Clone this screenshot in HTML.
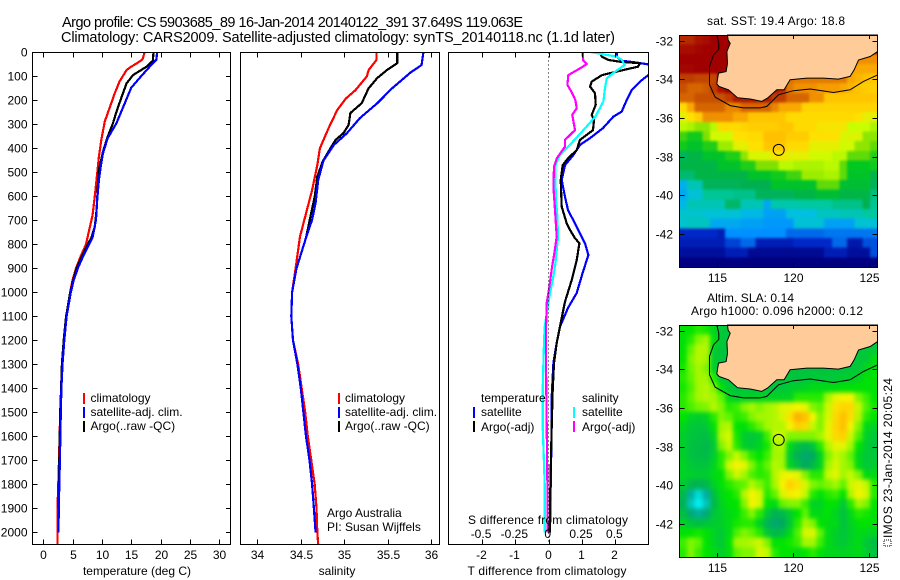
<!DOCTYPE html>
<html>
<head>
<meta charset="utf-8">
<title>Argo profile</title>
<style>
html,body{margin:0;padding:0;background:#fff;}
svg{display:block;}
text{font-family:"Liberation Sans",sans-serif;font-size:12px;fill:#000;}
.t{font-size:14.5px;}
</style>
</head>
<body>
<svg id="fig" xmlns="http://www.w3.org/2000/svg" width="900" height="580" viewBox="0 0 900 580">
<defs>
<filter id="soft-sst" filterUnits="userSpaceOnUse" x="650" y="10" width="250" height="280" color-interpolation-filters="sRGB"><feGaussianBlur stdDeviation="1.2"/></filter>
<filter id="soft-sla" filterUnits="userSpaceOnUse" x="650" y="300" width="250" height="280" color-interpolation-filters="sRGB"><feGaussianBlur stdDeviation="2.2"/></filter>
</defs>
<text class="t" x="62" y="27" textLength="461">Argo profile: CS 5903685_89 16-Jan-2014 20140122_391 37.649S 119.063E</text>
<text class="t" x="61" y="42" textLength="554">Climatology: CARS2009. Satellite-adjusted climatology: synTS_20140118.nc (1.1d later)</text>
<text x="776" y="25" text-anchor="middle" textLength="138">sat. SST: 19.4  Argo: 18.8</text>
<text x="707" y="302" textLength="87">Altim. SLA: 0.14</text>
<text x="691" y="315" textLength="172">Argo h1000: 0.096 h2000: 0.12</text>
<g id="layer"></g>
<text x="137" y="575" text-anchor="middle">temperature (deg C)</text>
<text x="337" y="575" text-anchor="middle">salinity</text>
<text x="547" y="575" text-anchor="middle" textLength="159">T difference from climatology</text>
<text x="548" y="524" text-anchor="middle" textLength="160">S difference from climatology</text>
<text x="327" y="517">Argo Australia</text>
<text x="327" y="531">PI: Susan Wijffels</text>
<g>
<rect x="83" y="393" width="2" height="11" fill="#f00"/>
<text x="90.5" y="402">climatology</text>
<rect x="83" y="407" width="2" height="11" fill="#00f"/>
<text x="90.5" y="416">satellite-adj. clim.</text>
<rect x="83" y="421" width="2" height="11" fill="#000"/>
<text x="90.5" y="430">Argo(..raw -QC)</text>
</g>
<g>
<rect x="338" y="393" width="2" height="11" fill="#f00"/>
<text x="345" y="402">climatology</text>
<rect x="338" y="407" width="2" height="11" fill="#00f"/>
<text x="345" y="416">satellite-adj. clim.</text>
<rect x="338" y="421" width="2" height="11" fill="#000"/>
<text x="345" y="430">Argo(..raw -QC)</text>
</g>
<g>
<text x="481" y="402">temperature</text>
<text x="582" y="402">salinity</text>
<rect x="473" y="407" width="2" height="11" fill="#00f"/>
<text x="481" y="416">satellite</text>
<rect x="473" y="421" width="2" height="11" fill="#000"/>
<text x="481" y="431">Argo(-adj)</text>
<rect x="573" y="407" width="2" height="11" fill="#0ff"/>
<text x="582" y="416">satellite</text>
<rect x="573" y="421" width="2" height="11" fill="#f0f"/>
<text x="582" y="431">Argo(-adj)</text>
</g>
<rect x="884" y="540" width="7" height="6" fill="none" stroke="#000" stroke-width="1" stroke-dasharray="1 1"/>
<text transform="translate(892,538) rotate(-90)" textLength="160">IMOS 23-Jan-2014 20:05:24</text>
</svg>
<script>
/* ---------- depth axis ---------- */
var depthTicks = [0,100,200,300,400,500,600,700,800,900,1000,1100,1200,1300,1400,1500,1600,1700,1800,1900,2000];
/* ---------- temperature profiles ---------- */
var tempTicks = [0,5,10,15,20,25,30];
var tempClimDepth = [0,30,45,60,74,122,170,226,288,365,435,505,600,680,755,800,850,900,950,1000,1100,1200,1300,1400,1500,1700,1900,2050];
var tempClim = [17.3,16.9,16,15,14.2,13,12.2,11.4,10.5,9.9,9.5,9.2,8.8,8.4,7.7,7.3,6.4,5.6,5,4.6,3.9,3.5,3.2,3.05,2.9,2.7,2.45,2.45];
var tempSatDepth = [0,30,53,108,148,212,295,358,420,477,532,615,698,773,800,850,900,950,1000,1100,1200,1300,1400,1500,1700,1800,2000];
var tempSat = [19.4,19.3,18.4,16.4,15,13.9,12.5,11,10.2,9.8,9.5,9.2,9,8.4,7.8,6.8,5.9,5.2,4.7,4,3.6,3.3,3.1,3,2.85,2.75,2.6];
var tempArgoDepth = [0,35,60,95,130,191,247,295,358,414,490,560,657,727,773,800,850,900,950,1000,1100,1200,1300,1400,1500,1700,1900,2000];
var tempArgo = [18.8,18.7,17.6,15.3,14.2,13.3,12.5,11.9,10.9,10.2,9.5,9.3,9.1,8.8,8.2,7.6,6.6,5.7,5.1,4.6,3.9,3.5,3.2,3.05,2.9,2.75,2.6,2.6];
/* ---------- salinity profiles ---------- */
var salTicks = [34,34.5,35,35.5,36];
var salClimDepth = [0,32,74,100,157,192,240,316,400,470,574,657,768,900,1000,1100,1200,1300,1400,1500,1600,1700,1800,1900,2000,2050];
var salClim = [35.37,35.37,35.28,35.26,35.13,35.02,34.92,34.82,34.72,34.69,34.63,34.57,34.49,34.44,34.4,34.39,34.41,34.47,34.51,34.55,34.58,34.62,34.66,34.68,34.69,34.7];
var salSatDepth = [0,53,85,150,212,274,337,386,452,532,628,698,773,900,1000,1100,1200,1300,1400,1500,1600,1700,1800,1900,2000];
var salSat = [35.91,35.89,35.76,35.55,35.38,35.18,35.03,34.88,34.76,34.7,34.67,34.63,34.56,34.45,34.4,34.39,34.41,34.46,34.5,34.53,34.56,34.6,34.63,34.65,34.67];
var salArgoDepth = [0,45,74,107,150,212,253,303,337,365,400,456,518,602,685,773,900,1000,1100,1200,1300,1400,1500,1600,1700,1800,1900,2000];
var salArgo = [35.61,35.61,35.49,35.38,35.28,35.2,35.07,35.05,34.99,34.9,34.84,34.75,34.69,34.66,34.61,34.56,34.45,34.4,34.39,34.41,34.46,34.5,34.53,34.56,34.6,34.63,34.65,34.67];
/* ---------- difference profiles ---------- */
var diffTTicks = [-2,-1,0,1,2];
var diffSTicks = [-0.5,-0.25,0,0.25,0.5];
var diffSatTDepth = [0,18,35,43,53,88,122,157,199,247,268,316,358,386,428,470,532,602,657,727,796,845,914,1003,1065,1143,1211,1295,1435,1557,1800,2000];
var diffSatT = [2.04,2.04,2.19,2.64,3.1,3.05,2.74,2.49,2.34,2.19,1.94,1.63,1.24,0.94,0.74,0.49,0.39,0.49,0.58,0.84,1.09,1.19,1.03,0.84,0.58,0.34,0.24,0.14,0.09,0.09,0.06,0.04];
var diffArgoTDepth = [0,18,32,39,46,60,74,95,122,143,170,219,261,282,324,365,407,442,470,532,643,713,740,773,796,866,949,1039,1143,1211,1295,1407,1557,1800,2000];
var diffArgoT = [1.54,1.59,1.79,2.14,2.74,2.68,2.23,1.6,1.29,1.24,1.39,1.41,1.29,1.36,1.33,0.94,0.84,0.58,0.42,0.36,0.39,0.54,0.64,0.78,0.92,0.84,0.69,0.49,0.34,0.24,0.16,0.12,0.09,0.05,0.03];
var diffSatSDepth = [0,18,32,53,88,109,157,205,268,324,379,428,470,532,615,685,773,796,880,949,1003,1072,1143,1211,1295,1407,1557,1800,2000];
var diffSatS = [0.32,0.51,0.55,0.57,0.48,0.435,0.42,0.41,0.35,0.26,0.17,0.085,0.05,0.05,0.055,0.065,0.07,0.065,0.05,0.03,0.01,-0.01,-0.03,-0.035,-0.04,-0.045,-0.045,-0.03,-0.03];
var diffArgoSDepth = [0,32,49,67,95,136,164,199,233,261,324,365,393,442,477,560,657,768,838,907,976,1045,1156,1295,1557,1800,2000];
var diffArgoS = [0.255,0.257,0.285,0.235,0.147,0.14,0.17,0.2,0.21,0.177,0.197,0.122,0.122,0.06,0.04,0.035,0.047,0.06,0.042,0.022,0.005,-0.015,-0.02,-0.02,-0.015,-0.01,-0.01];
/* ---------- maps ---------- */
var lonTicks = [115,120,125];
var latTicks = [-32,-34,-36,-38,-40,-42];
var argoLon = 119.063;
var argoLat = -37.649;
var n = null;
var sstRows = [
[21.2,21.2,21.5,21.6,21.8,21.8,21.8],
[21.6,21.6,21.7,21.8,21.8,21.8,21.8],
[21.8,21.8,21.8,21.8,21.8,21.8,21.8,n,n,n,n,n,n,n,n,n,n,n,n,n,n,n,n,20.2,20.2,20.2],
[21.7,21.7,21.8,21.8,21.8,21.8,21.8,n,n,n,n,n,n,n,n,n,n,n,n,n,n,n,20,20,20,20],
[21,21,20.9,20.9,20.9,21.8,21.8,n,n,n,n,n,n,n,20.5,20.4,20.4,20.4,20.4,20.4,20.4,20.4,20,19.9,19.8,19.7],
[20.8,20.6,20.6,20.7,21,21.5,21.8,21.6,21.5,21.5,21.5,21.5,21.5,21.2,20.4,20.2,20.2,20.2,20.1,20.1,20.1,20,19.9,19.7,19.6,19.6],
[20.6,20.6,20.8,20.8,20.8,20.8,21,21.4,21.4,21.4,21.4,21.4,21,21,20.6,20.6,20.6,20.2,20.2,19.7,19.7,19.7,19.7,19.7,19.7,19.7],
[19.4,20,20.6,20.6,20.6,20.6,20.3,20.3,20.6,20.6,20.6,20.6,20.3,20,20,20,19.5,19.5,19.5,19.5,19.5,19.5,19.5,19.5,19.5,19.5],
[19,19.3,19.6,20.2,20.2,20.2,20.2,20,20,19.7,19.7,19.7,19.7,19.7,19.4,19.4,19.4,19.4,19.4,19.4,19.4,19.4,19.4,19.3,19,19],
[18.6,18.5,18.3,18.3,18.6,19.4,19.4,19.4,19.5,19.6,19.6,19.6,19.6,19.7,19.7,19.4,19.4,19.4,19.2,19.2,19.2,19.2,18.7,18.7,18.7,18.5],
[17.8,17.5,17.5,18.2,18.8,18.8,18.8,19.3,19.3,19.4,19.4,19.8,19.8,19.8,19.6,19.6,19.6,19.3,19.3,19.3,19.3,18.9,18.9,18.9,18.3,18.3],
[17.5,17.3,17.3,17.6,17.6,18.4,18.4,19,19,19.3,19.3,19.7,19.7,19.7,19.4,19.4,19.4,19,19,19,19,18.8,18.8,18.3,18.3,18],
[16.8,17,17,17.3,17.3,17.3,17.6,17.6,18.3,18.9,18.9,18.9,19.2,19.2,19,19,19,18.8,18.8,18.8,18.6,18.6,18,18,18,17.6],
[17,17,17,17,17,17.3,17.3,17.3,17.6,17.6,18.2,18.2,18.2,18.6,18.6,18.5,18.5,18.5,18.5,18.6,18.6,18,17.4,17.4,17.4,17.5],
[16.6,16.6,17,17,17,17,17,17,17,17.3,17.3,17.3,17.5,17.5,17.8,17.8,18.4,18.4,18.4,18.5,18.5,18,17.3,17.3,17.3,17],
[15.4,16,16,16.8,16.8,16.8,16.8,16.8,16.9,16.9,16.9,16.9,17.3,17.3,17.3,17.3,17.3,17.3,18,18,18,17.2,17.2,17.2,17.2,16.8],
[15.3,15.7,15.7,16.3,16.3,16.3,16.3,16.4,16.4,16.4,16.8,16.8,16.8,16.8,16.8,17,17,17,17.2,17.2,17.2,17,17,17,17,16.5],
[15.5,16,16,16,16,16,16.7,16.7,16,16,16,15.3,16.1,16.1,16.1,16.1,16.2,16.2,16.2,16.2,16.4,16.4,16.4,16.4,16.9,16.3],
[15.8,15.8,15.8,15.7,15.7,15.7,15.7,15.7,15.5,15.5,15.5,15.2,15.2,15.2,15.6,15.6,15.6,15.6,15.9,15.9,15.9,16,16,16,16.2,16.2],
[15.8,15.9,15.9,15.9,15.3,15.3,15.3,15.3,15.2,15.2,15.2,15.1,15.1,15.1,15.1,15.7,15.7,15.7,15.7,15.2,15.2,15.2,15.2,15.7,15.7,15.7],
[14.2,14.2,14.2,14.2,14.2,14,15,15,15,15,15,15,15,15,14.7,14.7,14.7,14.7,14.7,14.8,14.8,14.8,14.8,14.8,14.8,14.8],
[14,14,14,14,14,14,14.4,14.4,14.7,14.7,14,14,14,14,14,14.2,14.2,14.2,14.2,14.2,14.7,14.7,13.9,13.9,14.5,14.5],
[13.7,13.7,13.7,13.7,13.7,13.7,14,14,14,13.6,13.6,13.6,13.6,13.6,13.6,13.6,13.6,13.6,13.6,14,14,14,13.7,13.7,13.7,14.5],
[13.4,13.4,13.4,13.4,13.4,13.4,13.4,13.4,13.4,13.4,13.4,13.4,13.4,13.4,13.4,13.4,13.4,13.4,13.4,13.4,13.4,13.4,13.4,13.4,13.4,13.4]
];
var slaRows = [
[0.02,0.03,0.05,0.04,-0.02,-0.05,-0.06],
[0.02,0.05,0.1,0.12,0.02,-0.05,-0.06],
[0.02,0.08,0.13,0.13,-0.03,-0.06,-0.06,n,n,n,n,n,n,n,n,n,n,n,n,n,n,n,n,-0.05,-0.05,-0.05],
[0.03,0.1,0.13,0.12,-0.04,-0.06,-0.06,n,n,n,n,n,n,n,n,n,n,n,n,n,n,n,-0.05,-0.05,-0.05,0],
[0.04,0.09,0.12,0.1,-0.03,-0.06,-0.06,n,n,n,n,n,n,n,n,n,n,n,n,n,n,n,-0.06,-0.05,-0.01,0.02],
[0.05,0.08,0.12,0.12,0.05,-0.05,-0.06,-0.06,-0.06,-0.06,-0.06,-0.06,-0.06,-0.06,-0.06,-0.06,-0.06,-0.05,-0.05,-0.05,-0.05,-0.04,-0.03,-0.02,0.02,0.02],
[0.04,0.07,0.12,0.13,0.1,0.03,-0.05,-0.06,-0.06,-0.06,-0.06,-0.06,-0.06,-0.06,-0.04,-0.03,-0.02,0,0,0,0.01,0.02,0.02,0.02,0.02,0.02],
[0.05,0.08,0.12,0.13,0.12,0.08,-0.01,-0.04,-0.03,-0.03,-0.02,-0.02,-0.02,-0.02,-0.02,0.05,0.05,0.05,0.05,0.12,0.18,0.2,0.2,0.1,0.06,0.03],
[0.05,0.07,0.09,0.1,0.13,0.1,0.05,0.06,0.1,0.12,0.1,0.12,0.13,0.17,0.18,0.2,0.18,0.1,0.08,0.15,0.24,0.27,0.26,0.14,0.07,0.04],
[0.03,-0.02,-0.03,-0.02,0.05,0.1,0.08,0.05,0.06,0.1,0.12,0.12,0.13,0.16,0.24,0.32,0.3,0.2,0.1,0.16,0.26,0.3,0.25,0.13,0.05,0.03],
[-0.01,-0.05,-0.06,-0.05,0.02,0.12,0.13,0.03,0.02,0.05,0.08,0.12,0.13,0.13,0.2,0.28,0.26,0.14,0.1,0.18,0.27,0.3,0.2,0.1,0,-0.02],
[-0.03,-0.06,-0.07,-0.08,-0.02,0.13,0.16,0.04,-0.04,-0.05,-0.03,0.06,0.14,0.14,0.1,0.1,0.1,0.1,0.12,0.18,0.26,0.28,0.15,0.07,-0.03,-0.05],
[-0.03,-0.07,-0.08,-0.1,-0.05,0.1,0.14,0.05,-0.03,-0.05,-0.02,0.04,0.12,0.13,0,-0.07,-0.1,-0.06,0.05,0.13,0.18,0.18,0.12,0.03,-0.04,-0.06],
[-0.03,-0.07,-0.08,-0.09,-0.04,0.05,0.1,0.14,0.1,0.05,0.03,0.06,0.12,0.12,-0.04,-0.12,-0.18,-0.14,-0.02,0.1,0.14,0.12,0.08,-0.01,-0.05,-0.05],
[-0.02,-0.05,-0.06,-0.06,-0.02,0.05,0.15,0.2,0.18,0.1,0.05,0.08,0.13,0.12,-0.02,-0.08,-0.15,-0.1,-0.02,0.12,0.16,0.12,0.1,0,-0.05,-0.04],
[-0.02,-0.03,-0.04,-0.04,0,0.02,0.1,0.15,0.12,0.07,0.05,0.06,0.13,0.18,0.2,0.18,0.1,0.05,0.05,0.14,0.18,0.12,0.14,0.1,0,0],
[-0.04,-0.1,-0.12,-0.1,-0.03,0.02,0.05,0.07,0.08,0.13,0.1,0.06,0.12,0.2,0.28,0.24,0.16,0.1,0.08,0.1,0.12,0.08,0.15,0.18,0.14,0.05],
[-0.1,-0.3,-0.4,-0.3,-0.08,0,0.03,0.05,0.13,0.2,0.16,0.05,0.08,0.16,0.22,0.2,0.14,0.05,0.02,0.05,0.06,0.03,0.13,0.2,0.16,0.05],
[-0.12,-0.35,-0.45,-0.35,-0.1,-0.02,0.02,0.03,0.1,0.2,0.16,0.03,0,0.08,0.1,0.1,0.06,-0.02,-0.02,0.03,0.02,-0.05,0.05,0.12,0.1,0.03],
[-0.08,-0.2,-0.28,-0.2,-0.06,-0.03,0,0.02,0.06,0.1,0.05,-0.05,-0.12,-0.1,-0.04,0.03,0.08,0,0,0.02,-0.02,-0.07,0,0.05,0.04,0.02],
[-0.02,-0.06,-0.08,-0.06,-0.04,-0.03,0,0.04,0.05,0.05,-0.02,-0.12,-0.18,-0.15,-0.05,0.05,0.12,0.1,0.03,0,0,-0.07,-0.02,0.02,0.03,0.02],
[0.02,0.03,0.04,0.02,-0.02,-0.05,0,0.07,0.1,0.08,0.05,-0.05,-0.1,-0.08,0,0.07,0.16,0.17,0.08,0,-0.03,-0.06,-0.03,0,-0.01,-0.02],
[0.06,0.1,0.08,0.03,-0.02,-0.05,0.02,0.12,0.12,0.13,0.15,0.1,0.02,0.03,0.04,0.06,0.12,0.12,0.06,0,-0.03,-0.05,-0.02,0,-0.05,-0.08],
[0.05,0.1,0.06,0.03,0,-0.03,0,0.08,0.1,0.1,0.16,0.14,0.05,0.03,0.03,0,0.03,0.05,0.02,-0.01,-0.01,-0.02,-0.01,0,-0.04,-0.06]
];
var landLon = [115.70,115.74,115.88,115.66,115.70,115.61,115.11,115.0,115.15,115.77,116.36,117.19,117.95,118.33,118.94,119.42,119.81,120.91,122.0,122.99,123.75,124.02,124.3,125.07,125.55,125.55];
var landLat = [-31.71,-31.97,-32.14,-32.57,-33.17,-33.6,-33.68,-34.23,-34.37,-34.54,-34.95,-35.02,-35.14,-34.97,-34.54,-34.54,-34.02,-33.94,-33.94,-33.99,-33.85,-33.51,-33.0,-32.82,-32.57,-31.71];
var isoLon = [115,115.13,115.13,114.78,114.52,114.52,114.89,115.88,116.75,117.84,118.28,119.05,120.03,121.13,122.66,123.75,124.63,125.55];
var isoLat = [-31.71,-32.14,-32.45,-32.74,-33.34,-34.28,-34.92,-35.36,-35.48,-35.48,-35.4,-34.8,-34.59,-34.5,-34.68,-34.54,-34.11,-33.77];
var sstLevels = [13.4,14.2,15,15.6,16.2,16.9,17.4,18.2,18.7,19.3,19.8,20.2,20.8,21.3,21.8];
var sstColors = ['#000080','#0028c8','#0090ff','#00c0e0','#00c8a0','#00b050','#00c820','#80e000','#c8ff00','#ffe000','#ffc000','#f09000','#c85000','#b02000','#a00000'];
var slaLevels = [-0.45,-0.3,-0.15,-0.05,0.03,0.08,0.14,0.2,0.28,0.36];
var slaColors = ['#00f0f0','#00b0a0','#00a860','#00c838','#00e400','#60f400','#c4f800','#f4f400','#ffd000','#ff9000'];

var SVGNS = 'http://www.w3.org/2000/svg';
var layer = document.getElementById('layer');
function make(tag, attrs, parent) {
  var el = document.createElementNS(SVGNS, tag);
  for (var k in attrs) el.setAttribute(k, attrs[k]);
  (parent || layer).appendChild(el);
  return el;
}
function scale(d0, d1, r0, r1) {
  return function (v) { return r0 + (v - d0) * (r1 - r0) / (d1 - d0); };
}
function hex(c) { return [parseInt(c.substr(1, 2), 16), parseInt(c.substr(3, 2), 16), parseInt(c.substr(5, 2), 16)]; }
function ramp(levels, colors) {
  return function (v) {
    var i = 0;
    if (v <= levels[0]) return colors[0];
    if (v >= levels[levels.length - 1]) return colors[colors.length - 1];
    while (v > levels[i + 1]) i++;
    var f = (v - levels[i]) / (levels[i + 1] - levels[i]);
    var a = hex(colors[i]), b = hex(colors[i + 1]);
    return 'rgb(' + Math.round(a[0] + (b[0] - a[0]) * f) + ',' + Math.round(a[1] + (b[1] - a[1]) * f) + ',' + Math.round(a[2] + (b[2] - a[2]) * f) + ')';
  };
}

var TOP = 52.3, BOT = 544.3;
var yDepth = scale(0, 2050, TOP, BOT);
var xTemp = scale(-1.8, 32, 32.6, 231);
var xSal = scale(33.8, 36.09, 240, 439);
var xDiffT = scale(-3, 3, 448.7, 648.7);
var xDiffS = scale(-0.75, 0.75, 448.7, 648.7);

function panel(id, left, right) {
  var g = make('g', {});
  
  
  var cp = make('clipPath', { id: id + '-clip' }, g);
  make('rect', { x: left, y: TOP, width: right - left, height: BOT - TOP }, cp);
  return g;
}
function frame(g, left, top, right, bottom) {
  var r = make('rect', { x: Math.floor(left) + 0.5, y: Math.floor(top) + 0.5, width: Math.round(right - left), height: Math.round(bottom - top), fill: 'none', stroke: '#000', 'stroke-width': 1, 'shape-rendering': 'crispEdges' }, g);
  
  
}
function tick(g, x1, y1, x2, y2) {
  var t = make('line', { x1: x1, y1: y1, x2: x2, y2: y2, stroke: '#000', 'stroke-width': 1, 'shape-rendering': 'crispEdges' }, g);
  
  
}
function label(g, x, y, str, anchor) {
  var t = make('text', { x: x, y: y, 'text-anchor': anchor || 'middle' }, g);
  t.textContent = str;
  
  
}
function profile(g, clipId, xf, vals, depths, color, name, width) {
  var pts = vals.map(function (v, i) { return xf(v).toFixed(1) + ',' + yDepth(depths[i]).toFixed(1); }).join(' ');
  var l = make('polyline', { points: pts, fill: 'none', stroke: color, 'stroke-width': width || 2.2, 'shape-rendering': 'crispEdges', 'stroke-linejoin': 'round', 'clip-path': 'url(#' + clipId + ')' }, g);
  
  
}

/* temperature panel */
var p1 = panel('temperature', 32.6, 231);
profile(p1, 'temperature-clip', xTemp, tempClim, tempClimDepth, '#f00', 'temperature-climatology-line');
profile(p1, 'temperature-clip', xTemp, tempArgo, tempArgoDepth, '#000', 'temperature-argo-line');
profile(p1, 'temperature-clip', xTemp, tempSat, tempSatDepth, '#00f', 'temperature-satellite-line');
frame(p1, 32.6, TOP, 231, BOT);
depthTicks.forEach(function (d) {
  var y = Math.round(yDepth(d)) + 0.5;
  tick(p1, 32.5, y, 37.5, y);
  tick(p1, 226, y, 231, y);
  label(p1, 27.5, y + 4, String(d), 'end');
});
tempTicks.forEach(function (v) {
  var x = Math.round(xTemp(v)) + 0.5;
  tick(p1, x, TOP, x, TOP + 5);
  tick(p1, x, BOT - 5, x, BOT);
  label(p1, x, 559, String(v));
});

/* salinity panel */
var p2 = panel('salinity', 240, 439);
profile(p2, 'salinity-clip', xSal, salClim, salClimDepth, '#f00', 'salinity-climatology-line');
profile(p2, 'salinity-clip', xSal, salArgo, salArgoDepth, '#000', 'salinity-argo-line');
profile(p2, 'salinity-clip', xSal, salSat, salSatDepth, '#00f', 'salinity-satellite-line');
frame(p2, 240, TOP, 439, BOT);
salTicks.forEach(function (v) {
  var x = Math.round(xSal(v)) + 0.5;
  tick(p2, x, TOP, x, TOP + 5);
  tick(p2, x, BOT - 5, x, BOT);
  label(p2, x, 559, String(v));
});

/* difference panel */
var p3 = panel('difference', 448.7, 648.7);
profile(p3, 'difference-clip', xDiffT, diffSatT, diffSatTDepth, '#00f', 'difference-t-satellite-line');
profile(p3, 'difference-clip', xDiffT, diffArgoT, diffArgoTDepth, '#000', 'difference-t-argo-line');
profile(p3, 'difference-clip', xDiffS, diffSatS, diffSatSDepth, '#0ff', 'difference-s-satellite-line');
profile(p3, 'difference-clip', xDiffS, diffArgoS, diffArgoSDepth, '#f0f', 'difference-s-argo-line');
var zeroLine = make('line', { x1: xDiffT(0), y1: TOP, x2: xDiffT(0), y2: BOT, stroke: '#000', 'stroke-width': 1, 'stroke-dasharray': '1 3', 'shape-rendering': 'crispEdges' }, p3);


frame(p3, 448.7, TOP, 648.7, BOT);
diffTTicks.forEach(function (v) {
  var x = Math.round(xDiffT(v)) + 0.5;
  tick(p3, x, TOP, x, TOP + 5);
  tick(p3, x, BOT - 5, x, BOT);
  label(p3, x - 1, 559, String(v));
});
diffSTicks.forEach(function (v) {
  label(p3, xDiffS(v) - 1, 538, String(v));
});

/* maps */
var MAP_COLS = 26;
var EDGE_BLEED = 14;
var xLon = scale(112.55, 125.55, 679.5, 877.5);
function drawMap(id, top, bottom, rows, color) {
  var g = make('g', {});
  
  
  var yLat = scale(-31.71, -43.7, top, bottom);
  var cp = make('clipPath', { id: id + '-map-clip' }, g);
  make('rect', { x: 679.5, y: top, width: 198, height: bottom - top }, cp);
  var clipped = make('g', { 'clip-path': 'url(#' + id + '-map-clip)' }, g);
  var soft = make('g', { filter: 'url(#soft-' + id + ')' }, clipped);
  rows.forEach(function (row, r) {
    var last = row[0];
    for (var c = 0; c < MAP_COLS; c++) {
      var v = row[c];
      /* cells under the land mass carry no reading: hold the last sea value so the polygon hides them */
      if (v === null || v === undefined) v = last;
      last = v;
      var x0 = xLon(112.55 + c * 0.5), x1 = xLon(113.05 + c * 0.5);
      var y0 = yLat(-31.7 - r * 0.5), y1 = yLat(-32.2 - r * 0.5);
      if (c === 0) x0 -= EDGE_BLEED;
      if (c === MAP_COLS - 1) x1 += EDGE_BLEED;
      if (r === 0) y0 -= EDGE_BLEED;
      if (r === rows.length - 1) y1 += EDGE_BLEED;
      var cell = make('rect', { x: x0, y: y0, width: x1 - x0 + 0.4, height: y1 - y0 + 0.4, fill: color(v), 'shape-rendering': 'crispEdges' }, soft);
      
      
    }
  });
  var land = make('polygon', { points: landLon.map(function (o, i) { return xLon(o).toFixed(1) + ',' + yLat(landLat[i]).toFixed(1); }).join(' '), fill: '#ffcc99', stroke: '#000', 'stroke-width': 1 }, g);
  
  
  var iso = make('polyline', { points: isoLon.map(function (o, i) { return xLon(o).toFixed(1) + ',' + yLat(isoLat[i]).toFixed(1); }).join(' '), fill: 'none', stroke: '#000', 'stroke-width': 1 }, g);
  
  
  var mark = make('circle', { cx: xLon(argoLon), cy: yLat(argoLat), r: 5.5, fill: 'none', stroke: '#000', 'stroke-width': 1 }, g);
  
  
  frame(g, 679.5, top, 877.5, bottom);
  latTicks.forEach(function (v) {
    var y = Math.round(yLat(v)) + 0.5;
    tick(g, 679.5, y, 684.5, y);
    tick(g, 872.5, y, 877.5, y);
    label(g, 673, y + 4, String(v), 'end');
  });
  lonTicks.forEach(function (v) {
    var x = Math.round(xLon(v)) + 0.5;
    tick(g, x, top, x, top + 4);
    tick(g, x, bottom - 4, x, bottom);
    label(g, x, bottom + 15, String(v));
  });
}
drawMap('sst', 35, 267, sstRows, ramp(sstLevels, sstColors));
drawMap('sla', 325, 557, slaRows, ramp(slaLevels, slaColors));
</script>
</body>
</html>
